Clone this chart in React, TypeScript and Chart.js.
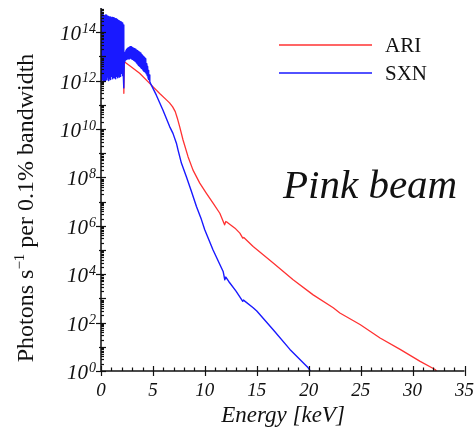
import React, { useEffect, useRef } from "react";
import { Chart, registerables } from "chart.js";

Chart.register(...registerables);

// ---- data (energy in keV, photons s^-1 per 0.1% bandwidth) ----
const SXN_E = [
  0.0, 0.03, 0.06, 0.09, 0.12, 0.15, 0.19, 0.23, 0.27, 0.31, 0.35, 0.39, 0.43, 0.47, 0.51, 0.55,
  0.59, 0.63, 0.67, 0.71, 0.75, 0.79, 0.83, 0.87, 0.91, 0.95, 0.99, 1.03, 1.07, 1.11, 1.15, 1.19,
  1.23, 1.27, 1.31, 1.35, 1.39, 1.43, 1.47, 1.51, 1.55, 1.59, 1.63, 1.67, 1.71, 1.75, 1.79, 1.83,
  1.87, 1.91, 1.95, 1.99, 2.03, 2.07, 2.11, 2.15, 2.18, 2.21, 2.25,
  2.29, 2.33, 2.37, 2.41, 2.45, 2.49, 2.53, 2.57, 2.61, 2.65, 2.69, 2.73, 2.77, 2.81, 2.85, 2.89,
  2.93, 2.97, 3.01, 3.05, 3.09, 3.13, 3.17, 3.21, 3.25, 3.29, 3.33, 3.37, 3.41, 3.45, 3.49, 3.53,
  3.57, 3.61, 3.65, 3.69, 3.73, 3.77, 3.81, 3.85, 3.89, 3.93, 3.97, 4.01, 4.05, 4.09, 4.13, 4.17,
  4.21, 4.25, 4.29, 4.33, 4.37, 4.41, 4.45, 4.49, 4.53, 4.57, 4.61, 4.65, 4.7, 4.78, 4.85,
  5.33, 5.97, 6.61, 6.93, 7.26, 7.42, 7.74, 8.22, 8.71, 9.19, 9.67, 9.99, 10.79, 11.76, 11.92,
  12.02, 12.3, 13.0, 13.65, 13.72, 14.65, 15.0, 16.58, 18.19, 19.95, 20.15,
];
const SXN_V = [
  9.0e14, 1.2e12, 7.5e14, 1.0e12, 6.0e14, 1.1e12, 5.5e14, 9.0e11, 5.0e14, 1.3e12, 4.8e14, 1.0e12, 5.2e14, 1.2e12, 5.0e14, 1.1e12,
  4.6e14, 1.4e12, 4.4e14, 1.0e12, 4.5e14, 1.2e12, 4.2e14, 1.3e12, 4.3e14, 1.1e12, 4.0e14, 1.5e12, 4.1e14, 1.2e12, 3.9e14, 1.4e12,
  4.0e14, 1.3e12, 3.8e14, 1.6e12, 3.6e14, 1.2e12, 3.5e14, 1.5e12, 3.3e14, 1.3e12, 3.2e14, 1.7e12, 3.0e14, 1.4e12, 2.9e14, 1.8e12,
  2.7e14, 1.5e12, 2.6e14, 2.0e12, 2.4e14, 1.6e12, 2.2e14, 1.5e12, 2.0e14, 5.0e11, 1.0e13,
  6.0e12, 1.5e13, 7.0e12, 1.8e13, 7.5e12, 2.0e13, 8.0e12, 2.2e13, 8.0e12, 2.3e13, 8.5e12, 2.4e13, 8.0e12, 2.5e13, 8.5e12, 2.4e13,
  8.0e12, 2.5e13, 7.5e12, 2.3e13, 7.5e12, 2.2e13, 7.0e12, 2.1e13, 6.5e12, 2.0e13, 6.0e12, 1.9e13, 5.5e12, 1.8e13, 5.0e12, 1.7e13,
  4.6e12, 1.6e13, 4.2e12, 1.5e13, 3.8e12, 1.4e13, 3.5e12, 1.3e13, 3.2e12, 1.2e13, 3.0e12, 1.1e13, 2.7e12, 1.0e13, 2.5e12, 9.0e12,
  2.3e12, 8.0e12, 2.1e12, 6.5e12, 1.9e12, 5.0e12, 1.6e12, 3.8e12, 1.3e12, 2.6e12, 1.1e12, 1.7e12, 9.0e11, 7.5e11, 6.5e11,
  2.5e11, 6.0e10, 1.26e10, 6.6e9, 2.6e9, 1.35e9, 3.9e8, 1.07e8, 2.6e7, 6.3e6, 1.8e6, 6.9e5, 1.0e5, 1.3e4, 5.9e3,
  7.6e3, 5.0e3, 2.0e3, 7.6e2, 8.5e2, 4.1e2, 3.0e2, 51, 7.8, 1.35, 1,
];
const ARI_E = [
  0.0, 0.02, 0.04, 0.08, 0.5, 1.0, 1.5, 2.0, 2.18, 2.2, 2.24, 2.8, 3.72, 4.85, 5.65, 6.3, 6.6, 6.9,
  7.15, 7.35, 7.58, 7.9, 8.38, 8.86, 9.51, 10.15, 10.79, 11.44, 11.9, 12.02, 12.2, 12.9, 13.37,
  13.65, 13.75, 14.65, 16.58, 18.5, 20.43, 22.36, 23.0, 24.94, 26.87, 28.8, 30.73, 32.17, 32.3,
];
const ARI_V = [
  3.0e14, 8.0e11, 4.0e14, 1.5e13, 2.0e13, 1.5e13, 1.0e13, 7.0e12, 6.5e12, 3.0e11, 6.0e12, 4.0e12, 2.0e12, 6.5e11, 2.95e11, 1.6e11, 1.2e11, 8.2e10,
  5.2e10, 2.8e10, 1.23e10, 3.5e9, 7.2e8, 2.0e8, 5.8e7, 2.2e7, 8.7e6, 3.3e6, 1.1e6, 1.5e6, 1.35e6, 8.0e5, 5.0e5,
  3.1e5, 3.3e5, 1.4e5, 2.9e4, 5.9e3, 1.4e3, 4.1e2, 2.5e2, 83, 23, 7.8, 2.5, 1.15, 1,
];

const SERIES_NAMES = ["ARI", "SXN"];
const X_MAJOR_TICKS = [0, 5, 10, 15, 20, 25, 30, 35];
const Y_LABEL_EXPONENTS = [0, 2, 4, 6, 8, 10, 12, 14];
const X_TITLE = "Energy [keV]";
const Y_TITLE_PARTS = ["Photons s", "\u22121", " per 0.1% bandwidth"];
const ANNOTATION = "Pink beam";

const RED = "rgb(255,50,50)";
const BLUE = "rgb(25,25,255)";
const SERIF = "'Liberation Serif', 'DejaVu Serif', serif";

const decorPlugin = {
  id: "decor",
  afterDraw(chart: any) {
    const { ctx, chartArea, scales } = chart;
    const { left, right, top, bottom } = chartArea;
    const xs = scales.x;
    const ys = scales.y;
    ctx.save();
    ctx.strokeStyle = "#111";
    ctx.fillStyle = "#111";
    ctx.lineWidth = 1.5;
    ctx.beginPath();
    ctx.moveTo(left, top);
    ctx.lineTo(left, bottom);
    ctx.lineTo(right, bottom);
    ctx.stroke();

    // x ticks
    ctx.lineWidth = 1.2;
    for (let v = xs.min; v <= xs.max + 1e-9; v += 1) {
      const px = Math.round(xs.getPixelForValue(v)) + 0.5;
      const major = X_MAJOR_TICKS.includes(v);
      ctx.beginPath();
      ctx.moveTo(px, bottom + (major ? 5 : 0));
      ctx.lineTo(px, bottom - (major ? 5 : 3.5));
      ctx.stroke();
    }
    // y ticks
    for (let n = 0; n < 15; n++) {
      for (let k = 1; k <= 9; k++) {
        const py = Math.round(ys.getPixelForValue(k * Math.pow(10, n))) + 0.5;
        ctx.beginPath();
        if (k === 1) {
          const even = n % 2 === 0;
          ctx.moveTo(left - (even ? 5 : 2), py);
          ctx.lineTo(left + 5, py);
        } else {
          ctx.moveTo(left, py);
          ctx.lineTo(left + 3, py);
        }
        ctx.stroke();
      }
    }

    // x tick labels
    ctx.font = `italic 19px ${SERIF}`;
    ctx.textAlign = "center";
    ctx.textBaseline = "alphabetic";
    for (const v of X_MAJOR_TICKS) {
      ctx.fillText(String(v), xs.getPixelForValue(v), bottom + 25);
    }
    // y tick labels
    ctx.textAlign = "right";
    for (const e of Y_LABEL_EXPONENTS) {
      const py = ys.getPixelForValue(Math.pow(10, e));
      ctx.font = `italic 14px ${SERIF}`;
      const ew = ctx.measureText(String(e)).width;
      ctx.fillText(String(e), left - 5, py + 1);
      ctx.font = `italic 21px ${SERIF}`;
      ctx.fillText("10", left - 6 - ew, py + 8);
    }

    // x title
    ctx.font = `italic 23px ${SERIF}`;
    ctx.textAlign = "center";
    ctx.fillText(X_TITLE, 283, 422);

    // y title
    ctx.save();
    ctx.translate(33, 208);
    ctx.rotate(-Math.PI / 2);
    ctx.textAlign = "left";
    const big = `24px ${SERIF}`;
    const small = `15px ${SERIF}`;
    ctx.font = big;
    const w0 = ctx.measureText(Y_TITLE_PARTS[0]).width;
    const w2 = ctx.measureText(Y_TITLE_PARTS[2]).width;
    ctx.font = small;
    const w1 = ctx.measureText(Y_TITLE_PARTS[1]).width;
    let sx = -(w0 + w1 + w2) / 2;
    ctx.font = big;
    ctx.fillText(Y_TITLE_PARTS[0], sx, 0);
    sx += w0;
    ctx.font = small;
    ctx.fillText(Y_TITLE_PARTS[1], sx, -9);
    sx += w1;
    ctx.font = big;
    ctx.fillText(Y_TITLE_PARTS[2], sx, 0);
    ctx.restore();

    // legend
    const colors = [RED, BLUE];
    const ly = [45, 73];
    ctx.font = `21px ${SERIF}`;
    ctx.textAlign = "left";
    SERIES_NAMES.forEach((name, i) => {
      ctx.strokeStyle = colors[i];
      ctx.lineWidth = 1.5;
      ctx.beginPath();
      ctx.moveTo(279, ly[i]);
      ctx.lineTo(372, ly[i]);
      ctx.stroke();
      ctx.fillStyle = "#111";
      ctx.fillText(name, 385, ly[i] + 7);
    });

    // annotation
    ctx.font = `italic 41px ${SERIF}`;
    ctx.fillText(ANNOTATION, 283, 198);
    ctx.restore();
  },
};

export default function App() {
  const ref = useRef<HTMLCanvasElement | null>(null);
  useEffect(() => {
    if (!ref.current) return;
    const chart = new Chart(ref.current, {
      type: "line",
      data: {
        datasets: [
          {
            label: SERIES_NAMES[1],
            data: SXN_E.map((e, i) => ({ x: e, y: SXN_V[i] })),
            borderColor: BLUE,
            borderWidth: 1.4,
            borderJoinStyle: "round",
            pointRadius: 0,
            tension: 0,
            order: 0,
          },
          {
            label: SERIES_NAMES[0],
            data: ARI_E.map((e, i) => ({ x: e, y: ARI_V[i] })),
            borderColor: RED,
            borderWidth: 1.3,
            borderJoinStyle: "round",
            pointRadius: 0,
            tension: 0,
            order: 1,
          },
        ],
      },
      options: {
        animation: false,
        responsive: false,
        devicePixelRatio: 1,
        layout: { padding: { top: 8, right: 10.5, left: 0, bottom: 0 } },
        plugins: { legend: { display: false }, tooltip: { enabled: false } },
        scales: {
          x: {
            type: "linear",
            min: 0,
            max: 35,
            grid: { display: false },
            border: { display: false },
            ticks: { display: false },
            afterFit: (s: any) => {
              s.height = 60;
            },
          },
          y: {
            type: "logarithmic",
            min: 1,
            max: 1e15,
            grid: { display: false },
            border: { display: false },
            ticks: { display: false },
            afterFit: (s: any) => {
              s.width = 101;
            },
          },
        },
      },
      plugins: [decorPlugin],
    });
    return () => chart.destroy();
  }, []);
  return (
    <div style={{ position: "fixed", left: 0, top: 0, width: 475, height: 431, background: "#fff" }}>
      <canvas ref={ref} width={475} height={431} style={{ width: 475, height: 431, display: "block" }} />
    </div>
  );
}
